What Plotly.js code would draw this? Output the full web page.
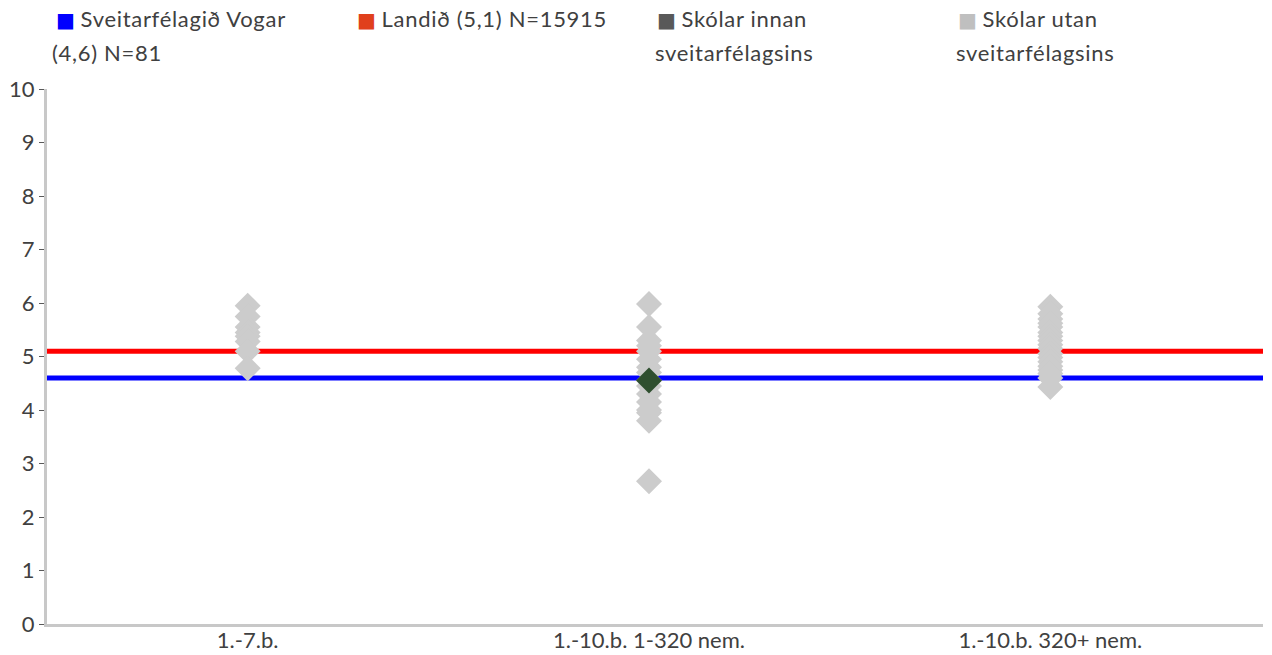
<!DOCTYPE html>
<html>
<head>
<meta charset="utf-8">
<script src="https://cdn.plot.ly/plotly-3.0.1.min.js"></script>
<style>
html,body{margin:0;padding:0;background:#fff;}
#chart{width:1272px;height:655px;}
</style>
</head>
<body>
<div id="chart"></div>
<script>
// ---- Data ----
const categories = ["1.-7.b.", "1.-10.b. 1-320 nem.", "1.-10.b. 320+ nem."];
const outsideCat1 = [5.95, 5.75, 5.55, 5.45, 5.38, 5.28, 5.1, 4.78];
const outsideCat2 = [5.98, 5.55, 5.3, 5.2, 5.1, 4.95, 4.8, 4.7, 4.55, 4.45, 4.3, 4.15, 4.0, 3.95, 3.8, 2.67];
const outsideCat3 = [5.93, 5.8, 5.7, 5.62, 5.55, 5.45, 5.38, 5.3, 5.22, 5.15, 5.05, 4.98, 4.9, 4.82, 4.75, 4.68, 4.6, 4.43];
const insideCategory = ["1.-10.b. 1-320 nem."];
const insideValues = [4.55];
const municipalityAvg = 4.6;
const nationalAvg = 5.1;
const legendLines1 = ["Sveitarfélagið Vogar", "Landið (5,1) N=15915", "Skólar innan", "Skólar utan"];
const legendLines2 = ["(4,6) N=81", "", "sveitarfélagsins", "sveitarfélagsins"];
const legendColors = ["#0000ff", "#e0401c", "#595959", "#bfbfbf"];
const yTicks = [0, 1, 2, 3, 4, 5, 6, 7, 8, 9, 10];

// ---- Build ----
const outsideGroups = [outsideCat1, outsideCat2, outsideCat3];
const ox = [], oy = [];
outsideGroups.forEach((g, i) => g.forEach(v => { ox.push(categories[i]); oy.push(v); }));

const FONT = "Lato, 'Open Sans', sans-serif";
const TXT = "#404040";

const traces = [
  {
    type: "scatter", mode: "markers", x: ox, y: oy, showlegend: false,
    marker: {symbol: "diamond", size: 20, color: "#cccccc", line: {width: 0}},
    hoverinfo: "y"
  },
  {
    type: "scatter", mode: "markers", x: insideCategory, y: insideValues, showlegend: false,
    marker: {symbol: "diamond", size: 20, color: "#2f4f2f", line: {width: 0}},
    hoverinfo: "y"
  }
];

const L = 47, R = 1263, T = 89, B = 624;
const W = R - L, H = B - T;
const px2x = p => (p - L) / W;
const py2y = p => (B - p) / H;

const legendSquareX = [54, 355, 655, 956];
const legendLine2X = [50, 352, 653, 954];
const annotations = [];
legendLines1.forEach((t, i) => {
  annotations.push({
    xref: "paper", yref: "paper",
    x: px2x(legendSquareX[i]), y: py2y(19),
    xanchor: "left", yanchor: "middle", align: "left", showarrow: false,
    font: {family: FONT, size: 22, color: TXT},
    text: "<span style='color:" + legendColors[i] + ";font-family:DejaVu Sans;font-size:20px'>\u25A0</span> " +
          "<span style='letter-spacing:0.7px'>" + t + "</span>"
  });
  if (legendLines2[i]) {
    annotations.push({
      xref: "paper", yref: "paper",
      x: px2x(legendLine2X[i]), y: py2y(52),
      xanchor: "left", yanchor: "middle", align: "left", showarrow: false,
      font: {family: FONT, size: 22, color: TXT},
      text: "<span style='letter-spacing:0.7px'>" + legendLines2[i] + "</span>"
    });
  }
});

const shapes = [
  {type: "line", xref: "paper", yref: "y", x0: 0, x1: 1, y0: nationalAvg, y1: nationalAvg,
   line: {color: "#ff0000", width: 5}, layer: "below"},
  {type: "line", xref: "paper", yref: "y", x0: 0, x1: 1, y0: municipalityAvg, y1: municipalityAvg,
   line: {color: "#0000ff", width: 5}, layer: "below"}
];

const layout = {
  width: 1272, height: 655,
  margin: {l: L, r: 1272 - R, t: T, b: 655 - B, pad: 0},
  paper_bgcolor: "#fff", plot_bgcolor: "#fff",
  showlegend: false,
  font: {family: FONT, size: 22, color: TXT},
  xaxis: {
    type: "category", categoryorder: "array", categoryarray: categories,
    range: [-0.5, 2.53], showgrid: false, zeroline: false,
    showline: true, linecolor: "#c8c8c8", linewidth: 3,
    ticks: "", ticklabelstandoff: -5,
    tickfont: {family: FONT, size: 22, color: TXT}
  },
  yaxis: {
    range: [0, 10], tickvals: yTicks, showgrid: false, zeroline: false,
    showline: true, linecolor: "#c8c8c8", linewidth: 3,
    ticks: "outside", ticklen: 5, tickcolor: "#595959", tickwidth: 1,
    tickfont: {family: FONT, size: 22, color: TXT}
  },
  shapes: shapes,
  annotations: annotations
};

Plotly.newPlot("chart", traces, layout, {displayModeBar: false, staticPlot: true});
</script>
</body>
</html>
